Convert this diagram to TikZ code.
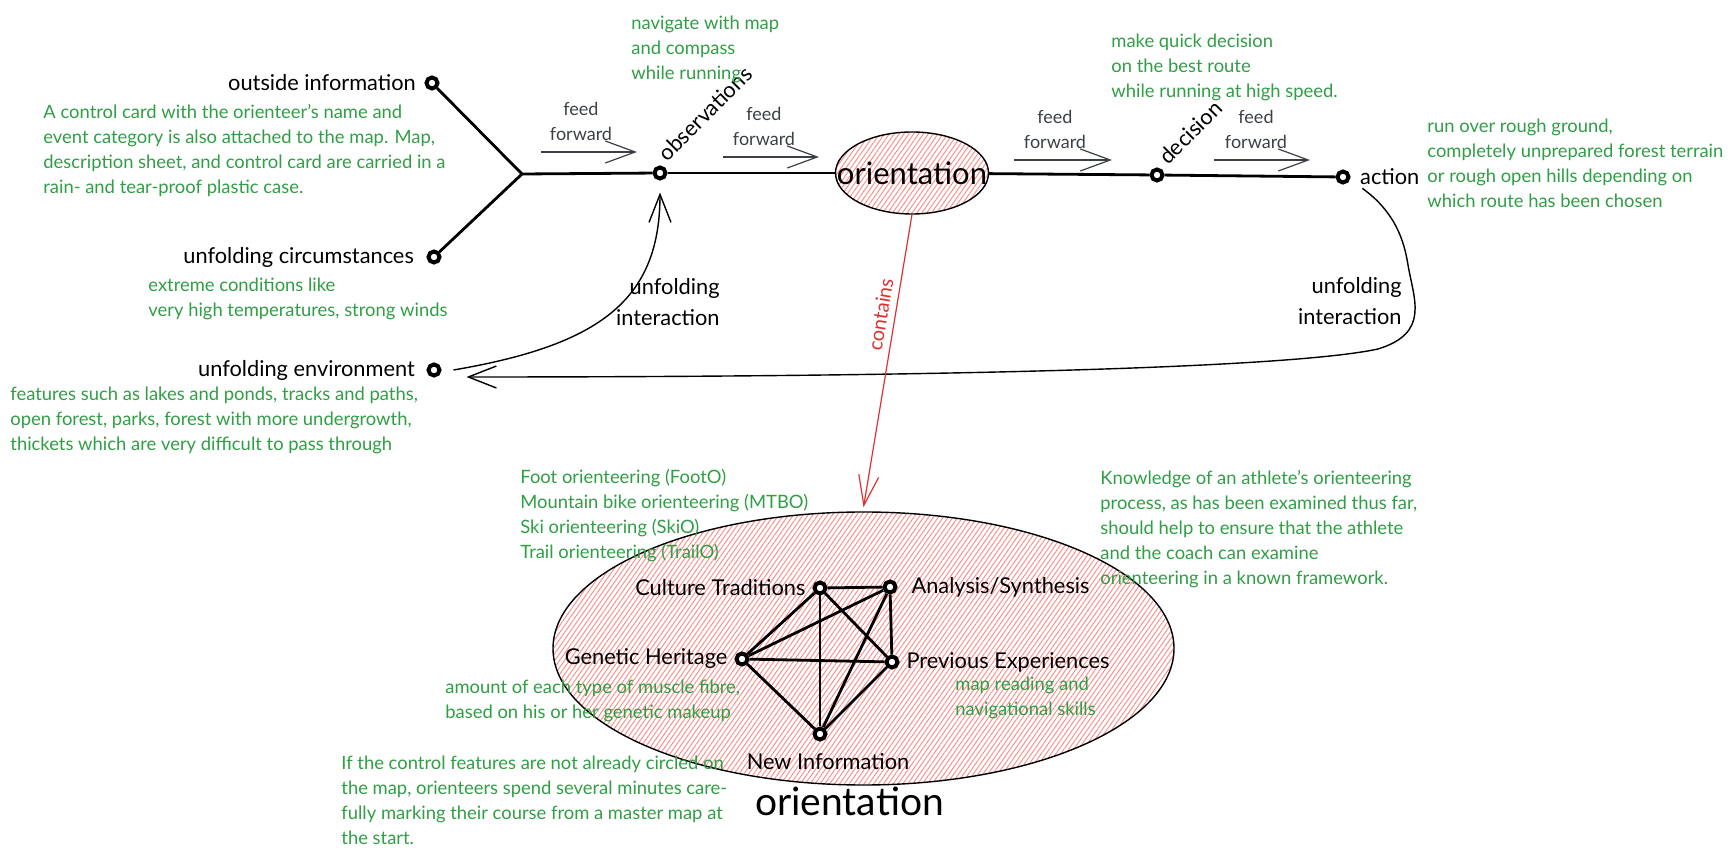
\documentclass[tikz,border=0pt]{standalone}
\usepackage{fontspec}
\setmainfont{Lato}
\usepackage{xcolor}
\usepackage{tikz}
\usetikzlibrary{arrows.meta, positioning, shapes.geometric, patterns.meta}
\definecolor{notegreen}{RGB}{47,158,68}
\definecolor{linkred}{RGB}{224,49,49}
\definecolor{hatchred}{RGB}{255,135,135}
\definecolor{flowgray}{RGB}{60,64,70}
\tikzset{
  dot/.style={circle, draw=black, fill=white, line width=2pt,
    minimum size=5.5pt, inner sep=0pt},
  hatched/.style={ellipse, draw=black, line width=0.7pt, inner sep=0pt,
    pattern={Lines[angle=55, distance=2pt, line width=0.45pt]}, pattern color=hatchred},
  note/.style={anchor=north west, inner sep=0pt, align=left, text=notegreen,
    font=\fontsize{9.2}{12.5}\selectfont},
  lbl/.style={font=\fontsize{10.9}{15.5}\selectfont, text=black},
  fflbl/.style={font=\fontsize{9}{12.5}\selectfont, text=flowgray,
    align=center, inner sep=0pt},
  ffarrow/.style={-{Straight Barb[length=15pt, width=11pt]}, line width=0.6pt, color=flowgray},
  curvearrow/.style={-{Straight Barb[length=14pt, width=11pt]}, line width=0.7pt, color=black},
  containsarrow/.style={-{Straight Barb[length=15pt, width=10pt]}, line width=0.6pt, color=linkred},
  link/.style={line width=1.4pt, color=black}
}
\begin{document}
\begin{tikzpicture}[x=0.5pt, y=-0.5pt]
  \useasboundingbox (0,0) rectangle (1736,860);

  % OODA chain
  \node[dot, label={[lbl, label distance=0.8pt]left:outside information}] (outinfo) at (432,83) {};
  \node[dot, label={[lbl, label distance=2.8pt]left:unfolding circumstances}] (circum) at (434,257) {};
  \node[dot, label={[lbl, label distance=2.3pt]left:unfolding environment}] (env) at (434,370) {};
  \coordinate (junc) at (522,174);
  \node[dot] (obs) at (660,173) {};
  \node[hatched, minimum width=76.5pt, minimum height=41pt,
    label={[font=\fontsize{15.5}{17}\selectfont]center:orientation}] (orient) at (912,173) {};
  \node[dot] (dec) at (1157,175) {};
  \node[dot, label={[lbl, label distance=1.3pt]right:action}] (act) at (1343,177) {};
  \node[lbl, rotate=45, anchor=base west, inner sep=0pt] (obslbl)
    at ([xshift=3.5pt, yshift=5pt]obs.center) {observations};
  \node[lbl, rotate=45, anchor=base west, inner sep=0pt] (declbl)
    at ([xshift=5.5pt, yshift=4.5pt]dec.center) {decision};

  \draw[link] (outinfo) -- (junc);
  \draw[link] (circum) -- (junc);
  \draw[link] (junc) -- (obs);
  \draw[link] (obs) -- (orient);
  \draw[link] (orient) -- (dec);
  \draw[link] (dec) -- (act);

  % feed forward arrows
  \coordinate (ff1s) at (541,152); \coordinate (ff1e) at (637,152);
  \coordinate (ff2s) at (723,157); \coordinate (ff2e) at (819,157);
  \coordinate (ff3s) at (1014,160); \coordinate (ff3e) at (1112,160);
  \coordinate (ff4s) at (1214,160); \coordinate (ff4e) at (1310,160);
  \draw[ffarrow] (ff1s) -- (ff1e) node[fflbl, midway, above=5.5pt, xshift=-4pt] {feed\\forward};
  \draw[ffarrow] (ff2s) -- (ff2e) node[fflbl, midway, above=5.5pt, xshift=-3.5pt] {feed\\forward};
  \draw[ffarrow] (ff3s) -- (ff3e) node[fflbl, midway, above=5.5pt, xshift=-4pt] {feed\\forward};
  \draw[ffarrow] (ff4s) -- (ff4e) node[fflbl, midway, above=5.5pt, xshift=-3pt] {feed\\forward};

  % unfolding interaction loops
  \draw[curvearrow] ([xshift=6pt]env.east) .. controls (600,345) and (660,300) .. ([yshift=-6pt]obs.south);
  \draw[curvearrow] ([xshift=7pt, yshift=-3pt]act.south east) .. controls (1395,212) and (1404,240) .. (1408,265)
    .. controls (1414,300) and (1430,333) .. (1378,349)
    .. controls (1300,366) and (1000,377) .. ([xshift=12.5pt, yshift=-3.5pt]env.east);
  \node[lbl, align=right, anchor=north east, inner sep=0pt] (loopl) at (720,278) {unfolding\\interaction};
  \node[lbl, align=right, anchor=north east, inner sep=0pt] (loopr) at (1402,277) {unfolding\\interaction};

  % inner orientation
  \node[hatched, minimum width=310.5pt, minimum height=136.5pt] (bigorient) at (863.5,648.5) {};
  \node[font=\fontsize{19.5}{22}\selectfont, inner sep=0pt, below=0.5pt of bigorient, xshift=-7pt] (bigtitle) {orientation};
  \draw[containsarrow] (orient.south) -- ([yshift=2pt]bigorient.north)
    node[pos=0.35, sloped, above, font=\fontsize{10}{11}\selectfont, text=linkred] {contains};

  \node[dot, label={[lbl]left:Culture Traditions}] (ct) at (820,588) {};
  \node[dot, label={[lbl, label distance=3.5pt]right:Analysis/Synthesis}] (as) at (890,587) {};
  \node[dot, label={[lbl]left:Genetic Heritage}] (gh) at (742,659) {};
  \node[dot, label={[lbl]right:Previous Experiences}] (pe) at (892,662) {};
  \node[dot, label={[lbl, label distance=2.3pt, xshift=4pt]below:New Information}] (ni) at (820,734) {};
  \draw[link] (ct) -- (as);
  \draw[link] (ct) -- (gh);
  \draw[link] (ct) -- (pe);
  \draw[link] (ct) -- (ni);
  \draw[link] (as) -- (gh);
  \draw[link] (as) -- (pe);
  \draw[link] (as) -- (ni);
  \draw[link] (gh) -- (pe);
  \draw[link] (gh) -- (ni);
  \draw[link] (pe) -- (ni);

  % notes
  \node[note] (navnote) at (631,16) {navigate with map\\and compass\\while running};
  \node[note] (decnote) at (1111,34) {make quick decision\\on the best route\\while running at high speed.};
  \node[note] (actnote) at (1427,119) {run over rough ground,\\completely unprepared forest terrain\\or rough open hills depending on\\which route has been chosen};
  \node[note] (cardnote) at (43,104) {A control card with the orienteer's name and\\event category is also attached to the map. Map,\\description sheet, and control card are carried in a\\rain- and tear-proof plastic case.};
  \node[note] (circnote) at (148,278) {extreme conditions like\\very high temperatures, strong winds};
  \node[note] (envnote) at (10,387) {features such as lakes and ponds, tracks and paths,\\open forest, parks, forest with more undergrowth,\\thickets which are very difficult to pass through};
  \node[note] (typesnote) at (520,469) {Foot orienteering (FootO)\\Mountain bike orienteering (MTBO)\\Ski orienteering (SkiO)\\Trail orienteering (TrailO)};
  \node[note] (knownote) at (1100,470) {Knowledge of an athlete's orienteering\\process, as has been examined thus far,\\should help to ensure that the athlete\\and the coach can examine\\orienteering in a known framework.};
  \node[note] (musclenote) at (445,680) {amount of each type of muscle fibre,\\based on his or her genetic makeup};
  \node[note] (mapnote) at (955,677) {map reading and\\navigational skills};
  \node[note] (controlnote) at (341,756) {If the control features are not already circled on\\the map, orienteers spend several minutes care-\\fully marking their course from a master map at\\the start.};
\end{tikzpicture}
\end{document}
